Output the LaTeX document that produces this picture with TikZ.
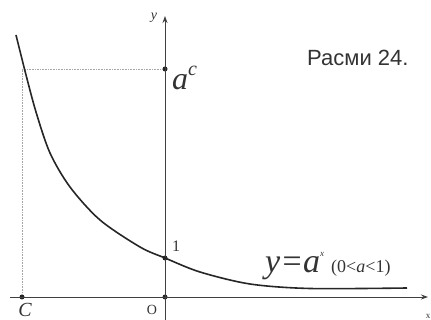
\documentclass[tikz,border=0pt]{standalone}
\usepackage{fontspec}
\setmainfont{Liberation Serif}
\newfontfamily\capfont{Liberation Sans}
\usetikzlibrary{arrows.meta}
\begin{document}
\begin{tikzpicture}[x=1pt,y=-1pt,
  axis/.style={draw=black!75,line width=0.9pt,-{Stealth[length=7pt,width=5pt]}},
  guide/.style={draw=black!35,line width=0.6pt,densely dotted},
  curve/.style={draw=black!85,line width=1.6pt},
  dot/.style={circle,fill=black!85,inner sep=0pt,minimum size=5pt},
  lbl/.style={inner sep=0pt,text=black!80}]
\useasboundingbox (0,0) rectangle (431,320);
% coordinates
\coordinate (xs) at (10,297);
\coordinate (xe) at (428,297);
\coordinate (ys) at (165,320);
\coordinate (ye) at (165,16);
% points
\node[dot] (O) at (165,297) {};
\node[dot] (C) at (22,297) {};
\node[dot] (AC) at (165,69) {};
\node[dot] (one) at (165,258) {};
\coordinate (corner) at (22,69);
\draw[guide] (C) -- (corner) -- (AC);
% axes
\draw[axis] (xs) -- (xe);
\draw[axis] (ys) -- (ye);
% curve
\draw[curve] plot[smooth] coordinates {(16,35) (25,71) (36,112) (50,153) (70,187) (100,220) (140,247) (165,258) (200,272) (250,284) (310,288.5) (407,288)};
% labels
\node[lbl,font=\fontsize{14}{14}\selectfont\itshape] (ylab) at (154,18) {y};
\node[lbl,font=\fontsize{9}{9}\selectfont] (xlab) at (428,316) {x};
\node[lbl,font=\fontsize{32}{32}\selectfont\itshape,anchor=base west] (aclab) at (172,90) {a\raisebox{14pt}{\fontsize{20}{20}\selectfont c}};
\node[lbl,font=\capfont\fontsize{22}{22}\selectfont,anchor=base west] (title) at (307,66) {Расми 24.};
\node[lbl,font=\fontsize{16}{16}\selectfont] (onelab) at (176,246) {1};
\node[lbl,font=\fontsize{14}{14}\selectfont] (Olab) at (152,310) {O};
\node[lbl,font=\fontsize{20}{20}\selectfont\itshape] (Clab) at (25,310) {C};
\node[lbl,font=\fontsize{34}{34}\selectfont\itshape,anchor=base west] (eq) at (265,273) {y=a\raisebox{17pt}{\fontsize{9}{9}\selectfont x}\hspace{7pt}{\upshape\fontsize{18}{18}\selectfont (0<\textit{a}<1)}};
\end{tikzpicture}
\end{document}
